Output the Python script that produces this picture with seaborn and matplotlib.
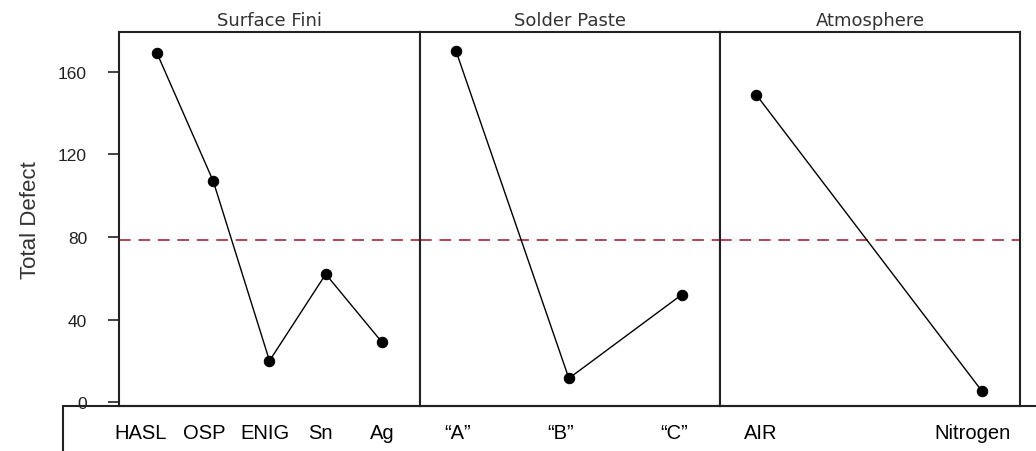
import matplotlib
matplotlib.use("Agg")
import matplotlib.pyplot as plt
from matplotlib.lines import Line2D
from matplotlib.transforms import ScaledTranslation
import seaborn as sns

# main effects for Total Defect
surface_levels = ["HASL", "OSP", "ENIG", "Sn", "Ag"]
surface_defect = [169, 107, 20, 62, 29]
paste_levels = ["\u201cA\u201d", "\u201cB\u201d", "\u201cC\u201d"]
paste_defect = [170, 11.5, 52]
atmos_levels = ["AIR", "Nitrogen"]
atmos_defect = [149, 5.5]
grand_mean = 78.3
yticks = [0, 40, 80, 120, 160]

panels = [
    ("Surface Fini", surface_levels, surface_defect, (-0.676, 4.676), [-16, -9, -5, -5, 0]),
    ("Solder Paste", paste_levels, paste_defect, (-0.32, 2.34), [1, -8, -8]),
    ("Atmosphere", atmos_levels, atmos_defect, (-0.16, 1.17), [5, -9]),
]

sns.set_style("white")
plt.rcParams["font.family"] = ["Liberation Sans", "DejaVu Sans"]

W, H = 1036, 452
fig = plt.figure(figsize=(W / 100, H / 100), dpi=100)

lefts = [119, 420, 720]
widths = [301, 300, 300]
bottom, top = 407, 33

for i, (title, levels, vals, xlim, offs) in enumerate(panels):
    ax = fig.add_axes([lefts[i] / W, (H - bottom) / H, widths[i] / W, (bottom - top) / H])
    sns.pointplot(x=levels, y=vals, color="black", markersize=7.5, linewidth=1.0, ax=ax)
    ax.axhline(grand_mean, color="#b04558", lw=1.4, ls=(0, (6, 4)), zorder=0)
    ax.set_xlim(*xlim)
    ax.set_ylim(-1.9, 179.3)
    ax.set_title(title, fontsize=13, family=["DejaVu Sans"], color="#333333", pad=5)
    for sp in ax.spines.values():
        sp.set_visible(True)
        sp.set_color("#222222")
        sp.set_linewidth(1.5)
    ax.tick_params(axis="x", length=0, pad=12, labelsize=14.5, labelcolor="black")
    for lbl, dx in zip(ax.get_xticklabels(), offs):
        lbl.set_transform(lbl.get_transform() + ScaledTranslation(dx / 100, 0, fig.dpi_scale_trans))
    if i == 0:
        ax.set_yticks(yticks)
        ax.tick_params(axis="y", direction="out", length=8, width=1.2, color="#222222",
                       pad=15, labelsize=12.5, labelcolor="#222222", left=True)
        ax.set_ylabel("Total Defect", fontsize=16, color="#333333", labelpad=12)
    else:
        ax.set_yticks([])
        ax.set_ylabel("")
    ax.set_xlabel("")

# box around the level labels
yb = (H - bottom) / H
xb = 63 / W
fig.add_artist(Line2D([xb, 1], [yb, yb], color="#222222", lw=1.5, transform=fig.transFigure))
fig.add_artist(Line2D([xb, xb], [0, yb], color="#222222", lw=1.5, transform=fig.transFigure))

fig.savefig("out.png", dpi=100)
